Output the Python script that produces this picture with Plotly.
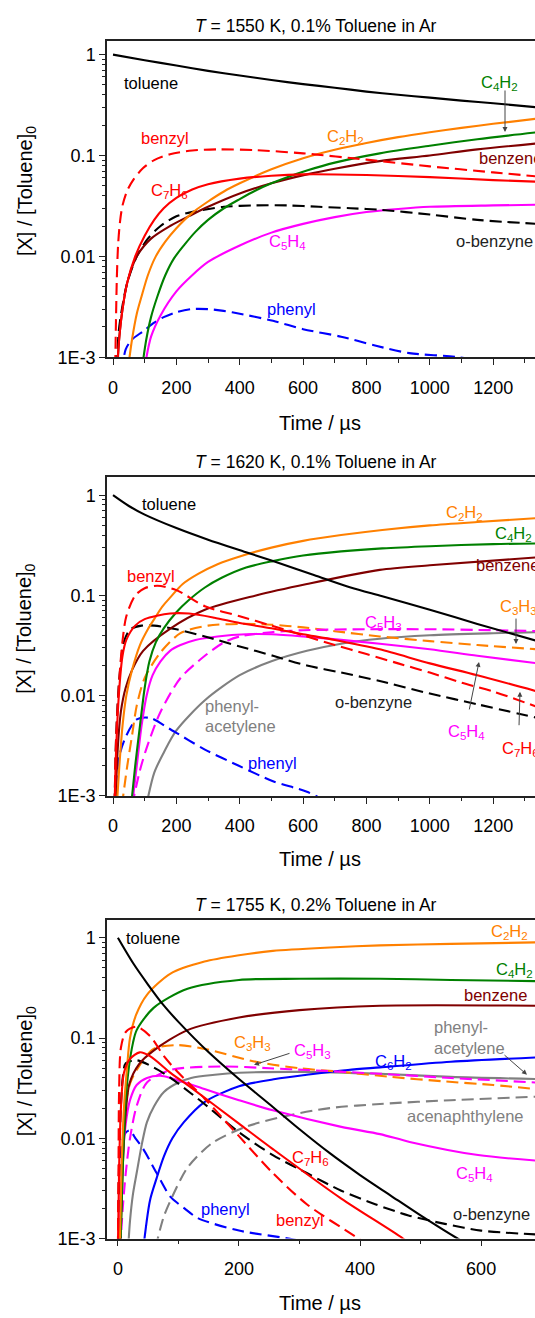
import plotly.graph_objects as go

W, H = 535, 1318

# ---------------- Panel 1 : T = 1550 K ----------------
p1_toluene_t = [0, 100, 200, 300, 400, 500, 600, 700, 800, 900, 1000, 1100, 1200, 1340]
p1_toluene = [1, 0.88, 0.78, 0.69, 0.62, 0.56, 0.51, 0.47, 0.43, 0.40, 0.375, 0.35, 0.33, 0.30]
p1_benzyl_t = [7, 9, 12, 16, 22, 30, 45, 65, 95, 130, 180, 250, 330, 450, 600, 800, 1000, 1200, 1340]
p1_benzyl = [0.0008, 0.002, 0.006, 0.013, 0.022, 0.032, 0.045, 0.058, 0.075, 0.09, 0.103, 0.112, 0.115, 0.113, 0.105, 0.091, 0.078, 0.068, 0.062]
p1_c7h6_t = [13, 20, 30, 45, 70, 100, 130, 160, 200, 250, 300, 400, 500, 600, 800, 1000, 1200, 1340]
p1_c7h6 = [0.0008, 0.0016, 0.003, 0.0055, 0.01, 0.016, 0.023, 0.03, 0.038, 0.046, 0.052, 0.059, 0.063, 0.065, 0.064, 0.061, 0.057, 0.055]
p1_benzene_t = [14, 20, 30, 45, 75, 120, 180, 250, 300, 400, 500, 612, 700, 842, 1000, 1150, 1340]
p1_benzene = [0.0008, 0.0016, 0.003, 0.0055, 0.01, 0.015, 0.02, 0.026, 0.031, 0.042, 0.053, 0.065, 0.074, 0.088, 0.1, 0.115, 0.132]
p1_obenzyne_t = [12, 18, 28, 45, 75, 110, 150, 200, 260, 350, 450, 550, 650, 750, 842, 1000, 1150, 1340]
p1_obenzyne = [0.0008, 0.0018, 0.003, 0.0055, 0.01, 0.015, 0.02, 0.025, 0.028, 0.031, 0.032, 0.032, 0.031, 0.03, 0.029, 0.026, 0.023, 0.021]
p1_c2h2_t = [48, 60, 75, 90, 110, 135, 165, 200, 250, 300, 350, 400, 500, 600, 700, 800, 900, 1000, 1100, 1200, 1340]
p1_c2h2 = [0.0008, 0.0015, 0.0027, 0.004, 0.0065, 0.01, 0.014, 0.019, 0.027, 0.035, 0.044, 0.053, 0.073, 0.094, 0.114, 0.133, 0.152, 0.17, 0.188, 0.206, 0.232]
p1_c4h2_t = [92, 105, 120, 140, 165, 192, 225, 260, 300, 350, 400, 450, 500, 550, 612, 700, 842, 1000, 1150, 1340]
p1_c4h2 = [0.0008, 0.0015, 0.0025, 0.004, 0.0065, 0.0095, 0.013, 0.0175, 0.023, 0.03, 0.037, 0.045, 0.053, 0.061, 0.071, 0.085, 0.105, 0.125, 0.145, 0.17]
p1_c5h4_t = [100, 120, 150, 200, 250, 300, 400, 500, 600, 700, 800, 900, 1000, 1200, 1340]
p1_c5h4 = [0.0008, 0.0016, 0.0026, 0.0045, 0.0065, 0.0088, 0.0128, 0.0172, 0.021, 0.0245, 0.0275, 0.0295, 0.031, 0.032, 0.0325]
p1_phenyl_t = [28, 40, 60, 94, 130, 160, 200, 246, 300, 343, 400, 505, 600, 720, 830, 935, 1090, 1200, 1340]
p1_phenyl = [0.0007, 0.0012, 0.0015, 0.0018, 0.0022, 0.0025, 0.0028, 0.003, 0.003, 0.0029, 0.0027, 0.0023, 0.0019, 0.0016, 0.0013, 0.0011, 0.001, 0.00085, 0.0007]

# ---------------- Panel 2 : T = 1620 K ----------------
p2_toluene_t = [0, 50, 100, 200, 300, 420, 505, 634, 750, 850, 1000, 1150, 1340]
p2_toluene = [1, 0.78, 0.64, 0.47, 0.36, 0.27, 0.22, 0.16, 0.12, 0.098, 0.072, 0.052, 0.035]
p2_benzyl_t = [5, 10, 20, 30, 42, 70, 100, 140, 200, 290, 400, 500, 600, 700, 800, 900, 1000, 1100, 1200, 1340]
p2_benzyl = [0.0008, 0.004, 0.015, 0.035, 0.062, 0.1, 0.118, 0.125, 0.113, 0.078, 0.062, 0.05, 0.04, 0.032, 0.026, 0.021, 0.017, 0.0135, 0.011, 0.0077]
p2_c7h6_t = [5, 10, 20, 30, 42, 70, 100, 180, 240, 320, 400, 500, 600, 700, 842, 1000, 1150, 1340]
p2_c7h6 = [0.0008, 0.003, 0.012, 0.025, 0.036, 0.05, 0.058, 0.066, 0.066, 0.06, 0.053, 0.047, 0.041, 0.036, 0.029, 0.021, 0.016, 0.011]
p2_c2h2_t = [12, 20, 30, 42, 60, 85, 110, 130, 155, 180, 220, 270, 330, 400, 500, 600, 720, 850, 1000, 1150, 1340]
p2_c2h2 = [0.0008, 0.002, 0.005, 0.01, 0.018, 0.032, 0.046, 0.058, 0.077, 0.095, 0.13, 0.165, 0.205, 0.245, 0.3, 0.35, 0.4, 0.45, 0.5, 0.54, 0.59]
p2_c4h2_t = [57, 70, 85, 100, 115, 135, 160, 200, 236, 290, 343, 420, 505, 600, 720, 850, 1000, 1200, 1340]
p2_c4h2 = [0.0008, 0.002, 0.005, 0.012, 0.022, 0.034, 0.047, 0.068, 0.088, 0.12, 0.15, 0.19, 0.22, 0.25, 0.275, 0.295, 0.31, 0.325, 0.33]
p2_benzene_t = [8, 15, 25, 40, 60, 95, 182, 290, 451, 612, 842, 1000, 1340]
p2_benzene = [0.0008, 0.003, 0.007, 0.012, 0.018, 0.028, 0.047, 0.072, 0.1, 0.13, 0.18, 0.2, 0.24]
p2_obenzyne_t = [5, 10, 20, 35, 55, 90, 130, 200, 290, 400, 505, 612, 720, 842, 1000, 1150, 1340]
p2_obenzyne = [0.0008, 0.004, 0.015, 0.035, 0.046, 0.05, 0.05, 0.046, 0.039, 0.031, 0.025, 0.02, 0.017, 0.014, 0.0105, 0.0082, 0.006]
p2_c5h4_t = [60, 75, 90, 106, 125, 150, 180, 213, 260, 330, 420, 500, 600, 720, 842, 1000, 1150, 1340]
p2_c5h4 = [0.0008, 0.002, 0.005, 0.01, 0.016, 0.022, 0.028, 0.032, 0.036, 0.039, 0.041, 0.041, 0.039, 0.036, 0.033, 0.029, 0.025, 0.021]
p2_c5h3_t = [60, 85, 106, 149, 213, 290, 350, 400, 500, 600, 800, 1000, 1200, 1340]
p2_c5h3 = [0.0008, 0.0018, 0.003, 0.0068, 0.015, 0.025, 0.034, 0.039, 0.043, 0.045, 0.046, 0.046, 0.045, 0.044]
p2_c3h3_t = [28, 45, 60, 75, 100, 150, 213, 300, 400, 500, 600, 700, 842, 1000, 1150, 1340]
p2_c3h3 = [0.0008, 0.002, 0.004, 0.008, 0.015, 0.027, 0.042, 0.05, 0.052, 0.051, 0.048, 0.044, 0.039, 0.035, 0.032, 0.029]
p2_phenyl_t = [5, 20, 42, 75, 117, 182, 290, 397, 505, 612, 700, 800]
p2_phenyl = [0.0008, 0.0025, 0.004, 0.0058, 0.006, 0.0046, 0.0029, 0.002, 0.0014, 0.0011, 0.0008, 0.0006]
p2_phacet_t = [105, 130, 160, 200, 290, 400, 500, 612, 720, 842, 1000, 1200, 1340]
p2_phacet = [0.0008, 0.0017, 0.0027, 0.0045, 0.009, 0.016, 0.022, 0.028, 0.033, 0.037, 0.04, 0.042, 0.043]

# ---------------- Panel 3 : T = 1755 K ----------------
p3_toluene_t = [0, 25, 50, 75, 100, 150, 200, 250, 300, 350, 400, 450, 500, 561, 620]
p3_toluene = [1, 0.56, 0.34, 0.214, 0.145, 0.072, 0.039, 0.022, 0.0123, 0.0071, 0.0043, 0.0027, 0.0017, 0.001, 0.00063]
p3_c2h2_t = [3, 6, 10, 15, 20, 30, 48, 87, 143, 200, 256, 350, 433, 550, 690]
p3_c2h2 = [0.0008, 0.005, 0.02, 0.05, 0.1, 0.17, 0.27, 0.44, 0.58, 0.67, 0.74, 0.8, 0.84, 0.87, 0.9]
p3_c4h2_t = [4, 8, 12, 18, 25, 31, 59, 115, 200, 300, 433, 550, 690]
p3_c4h2 = [0.0008, 0.005, 0.02, 0.05, 0.09, 0.12, 0.2, 0.31, 0.38, 0.39, 0.39, 0.38, 0.37]
p3_benzene_t = [4, 8, 12, 19, 35, 59, 115, 200, 300, 433, 690]
p3_benzene = [0.0008, 0.005, 0.015, 0.035, 0.055, 0.075, 0.12, 0.16, 0.19, 0.21, 0.21]
p3_benzyl_t = [0, 1, 2, 5, 13, 31, 53, 76, 100, 143, 200, 256, 312, 397, 450]
p3_benzyl = [0.0008, 0.005, 0.03, 0.08, 0.115, 0.13, 0.105, 0.066, 0.045, 0.025, 0.0105, 0.0045, 0.0022, 0.001, 0.0006]
p3_c7h6_t = [0, 2, 5, 10, 20, 36, 53, 87, 121, 200, 256, 369, 471, 520]
p3_c7h6 = [0.0008, 0.005, 0.02, 0.045, 0.062, 0.072, 0.066, 0.045, 0.032, 0.014, 0.0078, 0.0025, 0.001, 0.0006]
p3_obenzyne_t = [0, 3, 8, 13, 31, 59, 87, 121, 143, 200, 256, 312, 369, 425, 480, 540, 600, 690]
p3_obenzyne = [0.0008, 0.01, 0.04, 0.056, 0.06, 0.051, 0.04, 0.028, 0.022, 0.0115, 0.0068, 0.0045, 0.003, 0.0022, 0.0017, 0.0014, 0.0012, 0.0011]
p3_c3h3_t = [2, 6, 12, 20, 31, 59, 98, 143, 228, 300, 369, 450, 538, 620, 690]
p3_c3h3 = [0.0008, 0.005, 0.02, 0.035, 0.048, 0.078, 0.085, 0.078, 0.058, 0.05, 0.046, 0.041, 0.037, 0.034, 0.031]
p3_c5h3_t = [4, 8, 13, 20, 31, 48, 87, 172, 250, 312, 433, 550, 690]
p3_c5h3 = [0.0008, 0.002, 0.0045, 0.01, 0.021, 0.036, 0.048, 0.052, 0.05, 0.048, 0.044, 0.04, 0.036]
p3_c5h4_t = [2, 6, 13, 20, 31, 48, 70, 87, 143, 200, 256, 369, 433, 482, 595, 690]
p3_c5h4 = [0.0008, 0.004, 0.014, 0.024, 0.034, 0.04, 0.042, 0.04, 0.031, 0.024, 0.019, 0.013, 0.011, 0.0092, 0.0068, 0.006]
p3_phenyl_t = [1, 3, 6, 11, 19, 30, 42, 64, 87, 110, 132, 200, 290, 350]
p3_phenyl = [0.0008, 0.004, 0.008, 0.011, 0.012, 0.0098, 0.0078, 0.0045, 0.0026, 0.002, 0.0016, 0.0012, 0.00098, 0.0008]
p3_phacet_t = [17, 20, 25, 31, 40, 48, 60, 76, 100, 121, 160, 200, 300, 433, 550, 690]
p3_phacet = [0.0008, 0.0015, 0.0028, 0.0045, 0.009, 0.0145, 0.021, 0.029, 0.036, 0.04, 0.043, 0.045, 0.046, 0.044, 0.041, 0.039]
p3_c6h2_t = [42, 53, 64, 76, 90, 109, 143, 200, 260, 312, 380, 433, 550, 690]
p3_c6h2 = [0.0008, 0.0024, 0.004, 0.0066, 0.01, 0.0145, 0.023, 0.033, 0.039, 0.043, 0.048, 0.051, 0.058, 0.064]
p3_acen_t = [62, 75, 87, 115, 155, 211, 284, 350, 433, 550, 690]
p3_acen = [0.0008, 0.0016, 0.0024, 0.0051, 0.0089, 0.013, 0.017, 0.02, 0.022, 0.024, 0.026]

# tick labels
y_tickvals = [1, 0.1, 0.01, 0.001]
y_ticktext = ["1", "0.1", "0.01", "1E-3"]
titles = ["<i>T</i> = 1550 K, 0.1% Toluene in Ar",
          "<i>T</i> = 1620 K, 0.1% Toluene in Ar",
          "<i>T</i> = 1755 K, 0.2% Toluene in Ar"]

# ---------------- styling ----------------
BLACK = "#000000"
RED = "#FF0000"
ORANGE = "#FF8000"
GREEN = "#008000"
MAROON = "#800000"
MAGENTA = "#FF00FF"
BLUE = "#0000FF"
GRAY = "#808080"
DASH = "12px,6px"
FONT = "Liberation Sans, Arial, sans-serif"

fig = go.Figure()


def add(t, v, color, dashed, n):
    fig.add_trace(go.Scatter(
        x=t, y=v, mode="lines",
        line=dict(color=color, width=2.1, dash=DASH if dashed else "solid", shape="spline", smoothing=0.8),
        xaxis="x" if n == 1 else f"x{n}", yaxis="y" if n == 1 else f"y{n}",
        showlegend=False, hoverinfo="skip"))


# panel 1
add(p1_phenyl_t, p1_phenyl, BLUE, True, 1)
add(p1_c5h4_t, p1_c5h4, MAGENTA, False, 1)
add(p1_obenzyne_t, p1_obenzyne, BLACK, True, 1)
add(p1_benzene_t, p1_benzene, MAROON, False, 1)
add(p1_c4h2_t, p1_c4h2, GREEN, False, 1)
add(p1_c2h2_t, p1_c2h2, ORANGE, False, 1)
add(p1_c7h6_t, p1_c7h6, RED, False, 1)
add(p1_benzyl_t, p1_benzyl, RED, True, 1)
add(p1_toluene_t, p1_toluene, BLACK, False, 1)

# panel 2
add(p2_phacet_t, p2_phacet, GRAY, False, 2)
add(p2_phenyl_t, p2_phenyl, BLUE, True, 2)
add(p2_c3h3_t, p2_c3h3, ORANGE, True, 2)
add(p2_c5h3_t, p2_c5h3, MAGENTA, True, 2)
add(p2_c5h4_t, p2_c5h4, MAGENTA, False, 2)
add(p2_obenzyne_t, p2_obenzyne, BLACK, True, 2)
add(p2_benzene_t, p2_benzene, MAROON, False, 2)
add(p2_c4h2_t, p2_c4h2, GREEN, False, 2)
add(p2_c2h2_t, p2_c2h2, ORANGE, False, 2)
add(p2_c7h6_t, p2_c7h6, RED, False, 2)
add(p2_benzyl_t, p2_benzyl, RED, True, 2)
add(p2_toluene_t, p2_toluene, BLACK, False, 2)

# panel 3
add(p3_acen_t, p3_acen, GRAY, True, 3)
add(p3_phacet_t, p3_phacet, GRAY, False, 3)
add(p3_c6h2_t, p3_c6h2, BLUE, False, 3)
add(p3_phenyl_t, p3_phenyl, BLUE, True, 3)
add(p3_c3h3_t, p3_c3h3, ORANGE, True, 3)
add(p3_c5h3_t, p3_c5h3, MAGENTA, True, 3)
add(p3_c5h4_t, p3_c5h4, MAGENTA, False, 3)
add(p3_obenzyne_t, p3_obenzyne, BLACK, True, 3)
add(p3_benzene_t, p3_benzene, MAROON, False, 3)
add(p3_c4h2_t, p3_c4h2, GREEN, False, 3)
add(p3_c2h2_t, p3_c2h2, ORANGE, False, 3)
add(p3_c7h6_t, p3_c7h6, RED, False, 3)
add(p3_benzyl_t, p3_benzyl, RED, True, 3)
add(p3_toluene_t, p3_toluene, BLACK, False, 3)


def py(y):
    return 1 - y / H


def px(x):
    return x / W


# panel geometry (pixels)
panels = [
    dict(top=41, bottom=360, yr=[-3, 0.138], xr=[-19, 1332], dt=200, mdt=100, title_y=26, xt_y=426),
    dict(top=481, bottom=802, yr=[-3, 0.178], xr=[-19, 1332], dt=200, mdt=100, title_y=466, xt_y=866),
    dict(top=927, bottom=1248, yr=[-3, 0.178], xr=[-18, 689], dt=200, mdt=100, title_y=912, xt_y=1313),
]

minor_vals = [m * 10 ** e for e in (-3, -2, -1, 0) for m in range(2, 10)]

layout = dict(width=W, height=H, margin=dict(l=0, r=0, t=0, b=0),
              paper_bgcolor="white", plot_bgcolor="white",
              font=dict(family=FONT, size=17, color="black"))
annotations = []
for i, p in enumerate(panels, start=1):
    sx = "" if i == 1 else str(i)
    layout[f"xaxis{sx}"] = dict(
        domain=[107 / W, 1], range=p["xr"], anchor=f"y{sx}",
        showline=True, linecolor="#222", linewidth=1.5, mirror=True,
        ticks="outside", ticklen=6, tickwidth=1.3, tickcolor="#222",
        dtick=p["dt"], tick0=0, showgrid=False, zeroline=False,
        ticklabelstandoff=7,
        tickfont=dict(family=FONT, size=18),
        minor=dict(ticks="outside", ticklen=3.5, tickwidth=1.2, tickcolor="#222", dtick=p["mdt"], tick0=0, showgrid=False))
    layout[f"yaxis{sx}"] = dict(
        domain=[py(p["bottom"]), py(p["top"])], type="log", range=p["yr"], anchor=f"x{sx}",
        showline=True, linecolor="#222", linewidth=1.5, mirror=False,
        ticks="outside", ticklen=6, tickwidth=1.3, tickcolor="#222",
        tickvals=y_tickvals, ticktext=y_ticktext, showgrid=False, zeroline=False,
        tickfont=dict(family=FONT, size=18),
        minor=dict(ticks="outside", ticklen=3.5, tickwidth=1.2, tickcolor="#222", tickvals=minor_vals, showgrid=False))
    annotations.append(dict(text=titles[i - 1], x=px(316), y=py(p["title_y"]), xref="paper", yref="paper",
                            showarrow=False, font=dict(size=17.5), xanchor="center", yanchor="middle"))
    annotations.append(dict(text="Time / \u00b5s", x=px(320), y=py(p["xt_y"]), xref="paper", yref="paper",
                            showarrow=False, font=dict(size=20), xanchor="center", yanchor="middle"))
    annotations.append(dict(text="[X] / [Toluene]<sub>0</sub>", x=px(26), y=py((p["top"] + p["bottom"]) / 2 - 8),
                            xref="paper", yref="paper", textangle=-90,
                            showarrow=False, font=dict(size=20), xanchor="center", yanchor="middle"))


def lab(text, x, y, color, anchor="center"):
    if "<sub>" in text:
        y += 4
    annotations.append(dict(text=text, x=px(x), y=py(y), xref="paper", yref="paper", showarrow=False,
                            font=dict(size=16.5, color=color), xanchor=anchor, yanchor="middle"))


def arrow(hx, hy, tx, ty, color="#444"):
    annotations.append(dict(text="", x=px(hx), y=py(hy), xref="paper", yref="paper",
                            ax=tx - hx, ay=ty - hy, showarrow=True, arrowhead=2, arrowsize=1,
                            arrowwidth=1, arrowcolor=color))


# panel 1 labels
lab("toluene", 122, 84, BLACK, "left")
lab("benzyl", 165, 139, RED)
lab("C<sub>7</sub>H<sub>6</sub>", 169, 188, RED)
lab("C<sub>2</sub>H<sub>2</sub>", 345, 134, ORANGE)
lab("C<sub>4</sub>H<sub>2</sub>", 499, 80, GREEN)
arrow(505, 133, 505, 90)
lab("benzene", 477, 159, MAROON, "left")
lab("C<sub>5</sub>H<sub>4</sub>", 287, 240, MAGENTA)
lab("o-benzyne", 454, 243, "#222", "left")
lab("phenyl", 291, 311, BLUE)

# panel 2 labels
lab("toluene", 140, 508, BLACK, "left")
lab("C<sub>2</sub>H<sub>2</sub>", 464, 513, ORANGE)
lab("C<sub>4</sub>H<sub>2</sub>", 513, 534, GREEN)
lab("benzene", 474, 569, MAROON, "left")
lab("benzyl", 151, 580, RED)
lab("C<sub>5</sub>H<sub>3</sub>", 384, 624, MAGENTA)
lab("C<sub>3</sub>H<sub>3</sub>", 498, 608, ORANGE, "left")
arrow(516, 649, 516, 622)
lab("o-benzyne", 373, 707, "#222")
lab("C<sub>5</sub>H<sub>4</sub>", 466, 734, MAGENTA)
arrow(479, 667, 469, 716)
lab("C<sub>7</sub>H<sub>6</sub>", 500, 751, RED, "left")
arrow(520, 697, 519, 732)
lab("phenyl-", 203, 711, GRAY, "left")
lab("acetylene", 203, 732, GRAY, "left")
lab("phenyl", 272, 769, BLUE)

# panel 3 labels
lab("toluene", 124, 945, BLACK, "left")
lab("C<sub>2</sub>H<sub>2</sub>", 509, 935, ORANGE)
lab("C<sub>4</sub>H<sub>2</sub>", 514, 973, GREEN)
lab("benzene", 495, 1003, MAROON)
lab("C<sub>3</sub>H<sub>3</sub>", 252, 1047, ORANGE)
lab("C<sub>5</sub>H<sub>3</sub>", 312, 1055, MAGENTA)
arrow(254, 1073, 291, 1061)
lab("C<sub>6</sub>H<sub>2</sub>", 393, 1066, BLUE)
lab("phenyl-", 432, 1035, GRAY, "left")
lab("acetylene", 432, 1056, GRAY, "left")
arrow(527, 1083, 503, 1062)
lab("acenaphthylene", 465, 1125, GRAY)
lab("C<sub>5</sub>H<sub>4</sub>", 474, 1179, MAGENTA)
lab("C<sub>7</sub>H<sub>6</sub>", 310, 1163, RED)
lab("o-benzyne", 491, 1223, "#222")
lab("phenyl", 225, 1218, BLUE)
lab("benzyl", 300, 1229, RED)

layout["annotations"] = annotations
fig.update_layout(**layout)
fig.write_html("out.html")
